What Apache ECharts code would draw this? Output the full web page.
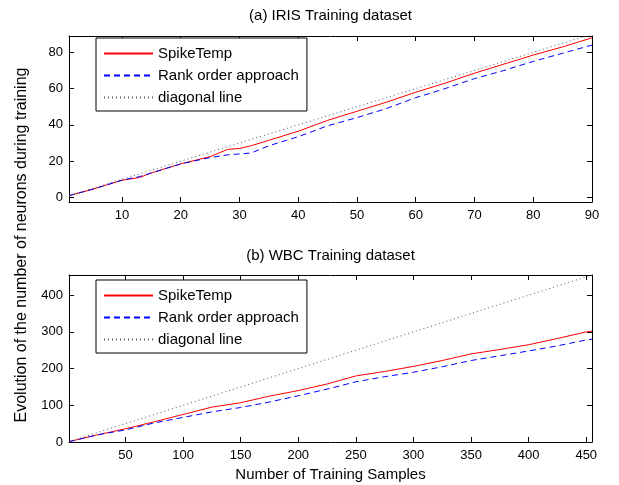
<!DOCTYPE html>
<html><head><meta charset="utf-8">
<script src="https://cdn.jsdelivr.net/npm/echarts@6/dist/echarts.min.js"></script>
<style>html,body{margin:0;padding:0;background:#fff}#c{width:619px;height:485px}</style>
</head><body><div id="c"></div>
<script>
// ---- data ----
const seriesNames = ['SpikeTemp', 'Rank order approach', 'diagonal line'];

const irisX     = [1, 5, 10, 13, 15, 20, 25, 28, 30, 32, 35, 40, 45, 50, 55, 60, 65, 70, 75, 80, 85, 90];
const irisSpike = [1, 4.5, 9.5, 11, 13.5, 18.5, 22.5, 26.5, 27, 28.5, 31.5, 36.5, 42.5, 47.5, 52.5, 58, 63, 68.5, 73.5, 78.5, 83, 88];
const irisRank  = [1, 4.5, 9.5, 11.5, 13.5, 18.5, 22, 23.5, 24, 24.5, 28.5, 33.5, 39.5, 44, 49, 55, 60, 65.5, 70, 75, 79.5, 84];
const irisDiagX = [1, 90];
const irisDiagY = [1, 90];

const wbcX     = [1, 25, 50, 75, 100, 125, 150, 175, 200, 225, 250, 275, 300, 325, 350, 375, 400, 425, 450, 455];
const wbcSpike = [1, 19, 36, 55, 75, 95, 107, 125, 140, 158, 180, 192, 206, 222, 240, 252, 265, 282, 300, 302];
const wbcRank  = [1, 19, 33, 52, 67, 82, 94, 109, 126, 144, 164, 178, 190, 205, 222, 235, 248, 262, 278, 280];
const wbcDiagX = [1, 455];
const wbcDiagY = [1, 455];

const irisXTicks = [10, 20, 30, 40, 50, 60, 70, 80, 90];
const irisYTicks = [0, 20, 40, 60, 80];
const wbcXTicks  = [50, 100, 150, 200, 250, 300, 350, 400, 450];
const wbcYTicks  = [0, 100, 200, 300, 400];

const titleA = '(a) IRIS Training dataset';
const titleB = '(b) WBC Training dataset';
const xName = 'Number of Training Samples';
const yName = 'Evolution of the number of neurons during training';

// ---- chart ----
const FONT = "'Liberation Sans', Arial, sans-serif";
const zip = (xs, ys) => xs.map((x, i) => [x, ys[i]]);

function xAx(grid, min, max, ticks, pos, labels, name) {
  return {
    type: 'value', gridIndex: grid, min: min, max: max, position: pos,
    name: name || '', nameLocation: 'middle', nameGap: 25,
    nameTextStyle: { color: '#000', fontSize: 15, fontFamily: FONT },
    axisLine: { show: true, onZero: false, lineStyle: { color: '#000', width: 1 } },
    axisTick: { show: true, inside: true, length: 5, customValues: ticks, lineStyle: { color: '#000' } },
    axisLabel: { show: labels, customValues: ticks, color: '#000', fontSize: 13, margin: 7, fontFamily: FONT },
    splitLine: { show: false }
  };
}
function yAx(grid, min, max, ticks, pos, labels) {
  return {
    type: 'value', gridIndex: grid, min: min, max: max, position: pos,
    axisLine: { show: true, onZero: false, lineStyle: { color: '#000', width: 1 } },
    axisTick: { show: true, inside: true, length: 5, customValues: ticks, lineStyle: { color: '#000' } },
    axisLabel: { show: labels, customValues: ticks, color: '#000', fontSize: 13, margin: 6, fontFamily: FONT },
    splitLine: { show: false }
  };
}
const styles = [
  { color: '#ff0000', width: 1, type: 'solid' },
  { color: '#0000ff', width: 1, type: [6, 4] },
  { color: '#555555', width: 1, type: [1, 3] }
];
function mkSeries(ax, data) {
  return data.map((d, i) => ({
    name: seriesNames[i], type: 'line', xAxisIndex: ax, yAxisIndex: ax,
    data: d, symbol: 'none', showSymbol: false, lineStyle: styles[i],
    itemStyle: { color: styles[i].color }, animation: false, silent: true
  }));
}
function mkLegend(top) {
  return {
    orient: 'vertical', left: 96, top: top, data: seriesNames,
    backgroundColor: '#fff', borderColor: '#000', borderWidth: 1, borderRadius: 0,
    padding: [8, 8, 6, 7], itemWidth: 49, itemHeight: 14, itemGap: 7, itemTextGap: 5,
    itemStyle: { opacity: 0 },
    textStyle: { color: '#000', fontSize: 15, fontFamily: FONT, lineHeight: 14 },
    selectedMode: false, z: 10
  };
}

const chart = echarts.init(document.getElementById('c'), null, { renderer: 'canvas' });
chart.setOption({
  backgroundColor: '#fff',
  animation: false,
  grid: [
    { left: 69, right: 27, top: 36, height: 166 },
    { left: 69, right: 27, top: 275, height: 167 }
  ],
  xAxis: [
    xAx(0, 1, 90, irisXTicks, 'bottom', true),
    xAx(0, 1, 90, irisXTicks, 'top', false),
    xAx(1, 1, 455, wbcXTicks, 'bottom', true, xName),
    xAx(1, 1, 455, wbcXTicks, 'top', false)
  ],
  yAxis: [
    yAx(0, -2.5, 89, irisYTicks, 'left', true),
    yAx(0, -2.5, 89, irisYTicks, 'right', false),
    yAx(1, 0, 455, wbcYTicks, 'left', true),
    yAx(1, 0, 455, wbcYTicks, 'right', false)
  ],
  legend: [mkLegend(38), mkLegend(280)],
  series: [].concat(
    mkSeries(0, [zip(irisX, irisSpike), zip(irisX, irisRank), zip(irisDiagX, irisDiagY)]),
    mkSeries(2, [zip(wbcX, wbcSpike), zip(wbcX, wbcRank), zip(wbcDiagX, wbcDiagY)])
  ),
  graphic: [
    { type: 'text', x: 330.5, y: 16, style: { text: titleA, textAlign: 'center', textVerticalAlign: 'middle', fill: '#000', font: '15px ' + FONT } },
    { type: 'text', x: 330.5, y: 256, style: { text: titleB, textAlign: 'center', textVerticalAlign: 'middle', fill: '#000', font: '15px ' + FONT } },
    { type: 'text', x: 22, y: 245, rotation: Math.PI / 2, style: { text: yName, textAlign: 'center', textVerticalAlign: 'middle', fill: '#000', font: '16px ' + FONT } }
  ]
});
</script>
</body></html>
